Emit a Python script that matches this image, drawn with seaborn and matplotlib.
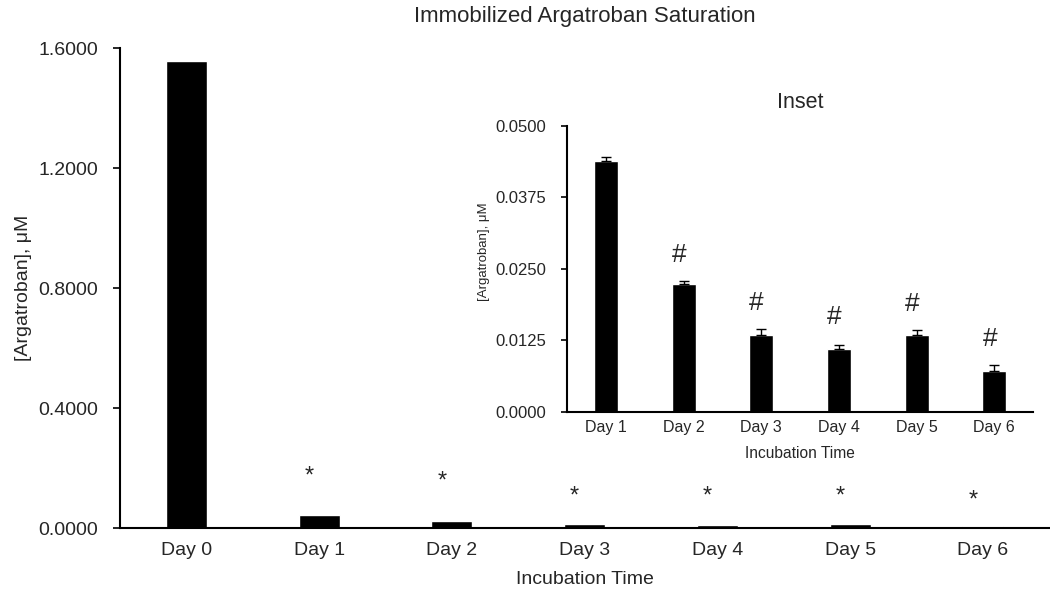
import matplotlib
matplotlib.use("Agg")
import matplotlib.pyplot as plt
import seaborn as sns
import pandas as pd

# datos
dias = ["Day 0", "Day 1", "Day 2", "Day 3", "Day 4", "Day 5", "Day 6"]
concentracion = [1.556, 0.0438, 0.0224, 0.0134, 0.0109, 0.0134, 0.0072]
error = [0.0, 0.0008, 0.0004, 0.0011, 0.0008, 0.0008, 0.0010]

# marcas de significancia
marcas_main = ["", "*", "*", "*", "*", "*", "*"]
y_marcas_main = [0, 0.172, 0.156, 0.106, 0.106, 0.106, 0.09]
marcas_inset = ["", "#", "#", "#", "#", "#"]
y_marcas_inset = [0, 0.0274, 0.0190, 0.0166, 0.0188, 0.0128]

sns.set_theme(style="white")
plt.rcParams["font.family"] = ["Liberation Sans", "DejaVu Sans"]

df = pd.DataFrame({"dia": dias, "conc": concentracion, "err": error})
df_inset = df.iloc[1:].reset_index(drop=True)

fig = plt.figure(figsize=(10.5, 5.93), dpi=100)

# =========================================
# GRAFICO PRINCIPAL
# =========================================
ax = fig.add_axes([0.1143, 0.1096, 0.885, 0.8094])
sns.barplot(data=df, x="dia", y="conc", color="black", saturation=1,
            width=0.31, errorbar=None, ax=ax)
for i, (m, y) in enumerate(zip(marcas_main, y_marcas_main)):
    if m:
        ax.text(i - 0.075, y, m, ha="center", va="center", fontsize=17)

ax.set_ylim(0, 1.6)
ax.set_xlim(-0.5, 6.5)
ticks_main = [0, 0.4, 0.8, 1.2, 1.6]
ax.set_yticks(ticks_main)
ax.set_yticklabels([f"{v:.4f}" for v in ticks_main], fontsize=14)
ax.tick_params(axis="y", direction="out", length=5, width=1.2, color="black", left=True, pad=11)
ax.tick_params(axis="x", length=0, labelsize=14, pad=10)
for s in ["top", "right"]:
    ax.spines[s].set_visible(False)
for s in ["left", "bottom"]:
    ax.spines[s].set_color("black")
    ax.spines[s].set_linewidth(1.5)
ax.set_xlabel("Incubation Time", fontsize=14)
ax.xaxis.set_label_coords(0.5, -0.09)
ax.set_ylabel("[Argatroban], \u03bcM", fontsize=14)
ax.yaxis.set_label_coords(-0.095, 0.5)
fig.text(0.557, 0.973, "Immobilized Argatroban Saturation", ha="center", va="center", fontsize=16)

# =========================================
# INSET
# =========================================
axi = fig.add_axes([0.54, 0.3057, 0.444, 0.4823])
sns.barplot(data=df_inset, x="dia", y="conc", color="black", saturation=1,
            width=0.31, errorbar=None, ax=axi)
axi.errorbar(range(len(df_inset)), df_inset["conc"],
             yerr=[[0] * len(df_inset), df_inset["err"]],
             fmt="none", ecolor="black", elinewidth=1, capsize=3.5)
for i, (m, y) in enumerate(zip(marcas_inset, y_marcas_inset)):
    if m:
        axi.text(i - 0.06, y, m, ha="center", va="center", fontsize=19)

axi.set_ylim(0, 0.05)
axi.set_xlim(-0.5, 5.5)
ticks_inset = [0, 0.0125, 0.025, 0.0375, 0.05]
axi.set_yticks(ticks_inset)
axi.set_yticklabels([f"{v:.4f}" for v in ticks_inset], fontsize=12)
axi.tick_params(axis="y", direction="out", length=4, width=1.2, color="black", left=True, pad=11)
axi.tick_params(axis="x", length=0, labelsize=11.5, pad=6)
for s in ["top", "right"]:
    axi.spines[s].set_visible(False)
for s in ["left", "bottom"]:
    axi.spines[s].set_color("black")
    axi.spines[s].set_linewidth(1.5)
axi.set_xlabel("Incubation Time", fontsize=11.2)
axi.xaxis.set_label_coords(0.5, -0.119)
axi.set_ylabel("[Argatroban], \u03bcM", fontsize=9.5)
axi.yaxis.set_label_coords(-0.165, 0.56)
axi.text(0.5, 1.08, "Inset", transform=axi.transAxes, ha="center", va="center", fontsize=15.5)
axi.patch.set_alpha(0)

fig.savefig("out.png", dpi=100)
